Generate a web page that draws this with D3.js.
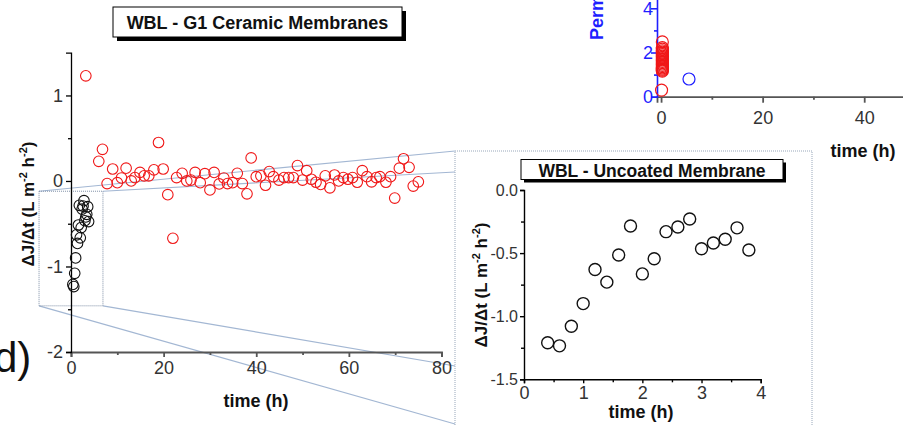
<!DOCTYPE html>
<html>
<head>
<meta charset="utf-8">
<script src="https://cdn.jsdelivr.net/npm/d3@7"></script>
<style>
  body { margin: 0; background: #fff; }
  svg { display: block; font-family: "Liberation Sans", Arial, sans-serif; }
  .tick text { fill: #333; }
</style>
</head>
<body>
<script>
// G1 ceramic membranes (red), flux decline rate vs time
const G1_TIME = [3.2, 6.0, 6.8, 7.8, 9.0, 10.0, 10.9, 11.9, 13.0, 13.8, 14.9, 15.8, 16.8, 17.9, 18.9, 19.9,
  20.9, 22.0, 22.8, 24.0, 25.0, 25.9, 26.8, 27.9, 28.9, 30.0, 30.9, 32.0, 33.0, 33.8, 34.9, 35.9, 37.0,
  38.0, 38.9, 40.0, 41.0, 42.0, 42.8, 43.7, 44.9, 46.0, 47.0, 48.0, 48.9, 50.0, 50.9, 51.9, 52.9, 53.9,
  54.9, 55.9, 56.9, 57.8, 58.8, 59.8, 60.8, 61.8, 62.9, 63.9, 64.9, 65.9, 66.7, 68.0, 69.0, 69.9, 70.9,
  71.8, 73.0, 73.9, 75.0];
const G1_RATE = [1.23, 0.23, 0.37, -0.03, 0.14, -0.02, 0.035, 0.15, 0.0, 0.04, 0.10, 0.06, 0.06, 0.13, 0.45, 0.14,
  -0.16, -0.67, 0.04, 0.09, 0.0, 0.01, 0.10, -0.02, 0.085, -0.105, 0.10, -0.035, 0.035, -0.03, -0.02, 0.09, -0.03,
  -0.15, 0.27, 0.05, 0.06, -0.05, 0.11, 0.05, 0.01, 0.04, 0.04, 0.04, 0.18, 0.01, 0.12, 0.02, -0.015, -0.04,
  0.06, -0.08, 0.07, 0.0, 0.04, 0.02, 0.04, -0.015, 0.12, 0.05, -0.01, 0.04, 0.05, -0.015, 0.05, -0.20, 0.15,
  0.26, 0.16, -0.06, -0.01];

// uncoated membrane (black), shown in main chart and in the inset
const UNC_TIME = [0.4, 0.6, 0.8, 1.0, 1.2, 1.4, 1.6, 1.8, 2.0, 2.2, 2.4, 2.6, 2.8, 3.0, 3.2, 3.4, 3.6, 3.8];
const UNC_RATE = [-1.21, -1.235, -1.08, -0.90, -0.63, -0.73, -0.515, -0.285, -0.665, -0.545, -0.33, -0.293,
  -0.23, -0.465, -0.42, -0.39, -0.30, -0.475];

// partial permeability chart top right
const PERM_RED_TIME = [0.25, 0.25, 0.25, 0.25, 0.25, 0.25, 0.25, 0.25, 0.25, 0.25, 0.25, 0.25, 0.25, 0.25,
  0.25, 0.25, 0.25, 0.25, 0.25, 0.25, 0.1];
const PERM_RED_VALUE = [2.48, 2.22, 2.15, 2.08, 2.02, 1.96, 1.9, 1.84, 1.78, 1.72, 1.66, 1.6, 1.54, 1.48,
  1.42, 1.36, 1.3, 1.25, 1.2, 1.16, 0.3];
const PERM_BLUE_TIME = [5.5];
const PERM_BLUE_VALUE = [0.8];

// tick labels
const MAIN_X_TICKS = [0, 20, 40, 60, 80];
const MAIN_X_MINOR = [10, 30, 50, 70];
const MAIN_Y_TICKS = [-2, -1, 0, 1];
const MAIN_Y_MINOR = [-1.5, -0.5, 0.5];
const INSET_X_TICKS = [0, 1, 2, 3, 4];
const INSET_X_MINOR = [0.5, 1.5, 2.5, 3.5];
const INSET_Y_TICKS = [0, -0.5, -1, -1.5];
const INSET_Y_MINOR = [-0.25, -0.75, -1.25];
const PERM_X_TICKS = [0, 20, 40];
const PERM_X_MINOR = [10, 30, 50];
const PERM_Y_TICKS = [0, 2, 4];
const PERM_Y_MINOR = [1, 3];

// zoomed region of main chart [t0, t1, v0, v1]
const ZOOM_BOX = [-6.9, 6.9, -1.46, -0.12];

const FRAME_WIDTH = 903;
const FRAME_HEIGHT = 426;
const YLABEL = "\u0394J/\u0394t (L m";

let FRAME = d3.select("body")
  .append("svg")
  .attr("width", FRAME_WIDTH)
  .attr("height", FRAME_HEIGHT);

// plain hyphen minus like the original
const fmtInt = (d) => String(d);
const fmtOne = (d) => d.toFixed(1);

// scales
const X_MAIN = d3.scaleLinear().domain([0, 80]).range([71, 441.5]);
const Y_MAIN = d3.scaleLinear().domain([-2, 1.5]).range([352, 52.7]);
const X_INSET = d3.scaleLinear().domain([0, 4]).range([524, 760.7]);
const Y_INSET = d3.scaleLinear().domain([-1.5, 0]).range([379.3, 190]);
const X_PERM = d3.scaleLinear().domain([-0.8, 50]).range([657, 915]);
const Y_PERM = d3.scaleLinear().domain([0, 5]).range([96.7, -13.8]);

// zoom connectors
const bx0 = X_MAIN(ZOOM_BOX[0]), bx1 = X_MAIN(ZOOM_BOX[1]);
const by0 = Y_MAIN(ZOOM_BOX[3]), by1 = Y_MAIN(ZOOM_BOX[2]);
const connectors = [
  [bx0, by0, 455, 151], [bx1, by0, 455, 172],
  [bx0, by1, 455, 424], [bx1, by1, 455, 366]
];
FRAME.append("g").selectAll("line")
  .data(connectors)
  .enter()
  .append("line")
    .attr("x1", (d) => d[0]).attr("y1", (d) => d[1])
    .attr("x2", (d) => d[2]).attr("y2", (d) => d[3])
    .attr("stroke", "#a3b7d3")
    .attr("stroke-width", 1.2);

FRAME.append("rect")
  .attr("x", bx0).attr("y", by0)
  .attr("width", bx1 - bx0).attr("height", by1 - by0)
  .attr("fill", "none")
  .attr("stroke", "#7e8fa6")
  .attr("stroke-dasharray", "1,1");

// inset frame
FRAME.append("rect")
  .attr("x", 455).attr("y", 151)
  .attr("width", 357).attr("height", 290)
  .attr("fill", "none")
  .attr("stroke", "#98a7ba")
  .attr("stroke-dasharray", "1,1");

// helper for axes
function drawAxis(axisFn, scale, ticks, minor, tx, ty, size, pad, fmt, color, width, fontSize) {
  let g = FRAME.append("g")
    .attr("transform", "translate(" + tx + "," + ty + ")")
    .call(axisFn(scale).tickValues(ticks).tickSizeOuter(0).tickSize(size).tickPadding(pad).tickFormat(fmt))
    .attr("font-size", fontSize || "18px")
    .attr("font-family", "Liberation Sans, Arial, sans-serif");
  g.append("g")
    .call(axisFn(scale).tickValues(minor).tickSizeOuter(0).tickSize(3).tickFormat(""))
    .select(".domain").remove();
  g.selectAll("path, line").attr("stroke", color).attr("stroke-width", width);
  return g;
}

// main chart axes
drawAxis(d3.axisBottom, X_MAIN, MAIN_X_TICKS, MAIN_X_MINOR, 0, 352, 5, 4, fmtInt, "#555", 1.8);
drawAxis(d3.axisLeft, Y_MAIN, MAIN_Y_TICKS, MAIN_Y_MINOR, 71, 0, 5, 3, fmtInt, "#000", 1.3);

// main chart points
FRAME.append("g").selectAll("circle")
  .data(G1_TIME)
  .enter()
  .append("circle")
    .attr("cx", (d) => X_MAIN(d))
    .attr("cy", (d, i) => Y_MAIN(G1_RATE[i]))
    .attr("r", 5.3)
    .attr("fill", "none")
    .attr("stroke", "#f01818")
    .attr("stroke-width", 1.1);

FRAME.append("g").selectAll("circle")
  .data(UNC_TIME)
  .enter()
  .append("circle")
    .attr("cx", (d) => X_MAIN(d))
    .attr("cy", (d, i) => Y_MAIN(UNC_RATE[i]))
    .attr("r", 5.3)
    .attr("fill", "none")
    .attr("stroke", "#111")
    .attr("stroke-width", 1.1);

// inset axes + points
drawAxis(d3.axisBottom, X_INSET, INSET_X_TICKS, INSET_X_MINOR, 0, 379.3, 4, 3, fmtInt, "#000", 1.4);
drawAxis(d3.axisLeft, Y_INSET, INSET_Y_TICKS, INSET_Y_MINOR, 524, 0, 4, 2, fmtOne, "#000", 1.4, "16px");

FRAME.append("g").selectAll("circle")
  .data(UNC_TIME)
  .enter()
  .append("circle")
    .attr("cx", (d) => X_INSET(d))
    .attr("cy", (d, i) => Y_INSET(UNC_RATE[i]))
    .attr("r", 6)
    .attr("fill", "none")
    .attr("stroke", "#111")
    .attr("stroke-width", 1.4);

// permeability chart (partial)
drawAxis(d3.axisBottom, X_PERM, PERM_X_TICKS, PERM_X_MINOR, 0, 96.7, 6, 9, fmtInt, "#555", 1.8);
let permY = drawAxis(d3.axisLeft, Y_PERM, PERM_Y_TICKS, PERM_Y_MINOR, 657, 0, 6, -2, fmtInt, "#1f1fff", 1.6);
permY.selectAll(".tick text").style("fill", "#1f1fff");

FRAME.append("g").selectAll("circle")
  .data(PERM_RED_TIME)
  .enter()
  .append("circle")
    .attr("cx", (d) => X_PERM(d))
    .attr("cy", (d, i) => Y_PERM(PERM_RED_VALUE[i]))
    .attr("r", 6)
    .attr("fill", "none")
    .attr("stroke", "#f01818")
    .attr("stroke-width", 1.2);

FRAME.append("g").selectAll("circle")
  .data(PERM_BLUE_TIME)
  .enter()
  .append("circle")
    .attr("cx", (d) => X_PERM(d))
    .attr("cy", (d, i) => Y_PERM(PERM_BLUE_VALUE[i]))
    .attr("r", 6)
    .attr("fill", "none")
    .attr("stroke", "#1f1fff")
    .attr("stroke-width", 1.2);

FRAME.append("text")
  .attr("transform", "translate(603,40) rotate(-90)")
  .attr("font-size", "18px").attr("font-weight", "bold")
  .attr("fill", "#1f1fff")
  .text("Permeability");

// axis labels
function xLabel(x, y, size) {
  FRAME.append("text")
    .attr("x", x).attr("y", y)
    .attr("text-anchor", "middle")
    .attr("font-size", size).attr("font-weight", "bold")
    .attr("fill", "#111")
    .text("time (h)");
}
xLabel(256, 407, "18px");
xLabel(641, 418, "18px");
xLabel(863, 157, "18px");

function yLabel(x, y) {
  let t = FRAME.append("text")
    .attr("transform", "translate(" + x + "," + y + ") rotate(-90)")
    .attr("text-anchor", "middle")
    .attr("font-size", "17px").attr("font-weight", "bold")
    .attr("fill", "#111");
  t.append("tspan").text(YLABEL);
  t.append("tspan").attr("dy", -7).attr("font-size", "11px").text("-2");
  t.append("tspan").attr("dy", 7).text(" h");
  t.append("tspan").attr("dy", -7).attr("font-size", "11px").text("-2");
  t.append("tspan").attr("dy", 7).text(")");
}
yLabel(34, 204);
yLabel(487, 285);

// title boxes with shadow
function titleBox(x, y, w, h, off, label, size, base) {
  FRAME.append("rect")
    .attr("x", x + off).attr("y", y + off)
    .attr("width", w).attr("height", h)
    .attr("fill", "#000");
  FRAME.append("rect")
    .attr("x", x).attr("y", y)
    .attr("width", w).attr("height", h)
    .attr("fill", "#fff").attr("stroke", "#000").attr("stroke-width", 1);
  FRAME.append("text")
    .attr("x", x + w / 2).attr("y", base)
    .attr("text-anchor", "middle")
    .attr("font-size", size).attr("font-weight", "bold")
    .attr("fill", "#111")
    .text(label);
}
titleBox(113, 7, 289, 30, 4, "WBL - G1 Ceramic Membranes", "18px", 28.5);
titleBox(521, 159.5, 262, 20, 3, "WBL - Uncoated Membrane", "17.5px", 176.5);

// panel letter
FRAME.append("text")
  .attr("x", -6).attr("y", 372)
  .attr("font-size", "42px")
  .attr("fill", "#111")
  .text("d)");
</script>
</body>
</html>
